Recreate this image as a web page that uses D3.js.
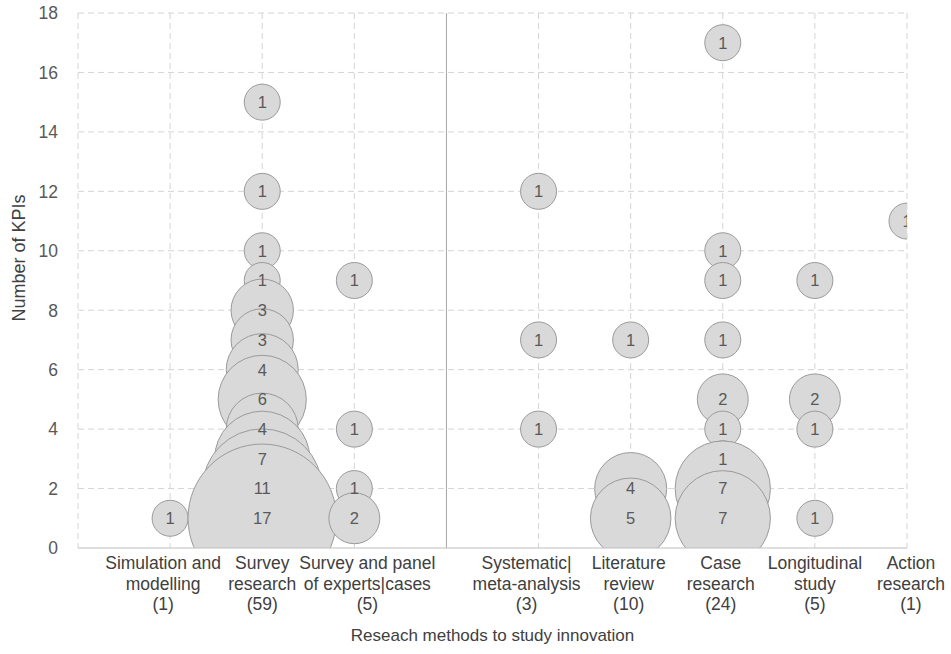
<!DOCTYPE html>
<html><head><meta charset="utf-8">
<script src="https://cdn.jsdelivr.net/npm/d3@7"></script>
<style>html,body{margin:0;padding:0;background:#fff;}svg{display:block;font-family:"Liberation Sans",Arial,sans-serif;}</style>
</head><body>
<svg id="chart" width="951" height="654"></svg>
<script>
const categories = [
  ["Simulation and","modelling","(1)"],
  ["Survey","research","(59)"],
  ["Survey and panel","of experts|cases","(5)"],
  ["Systematic|","meta-analysis","(3)"],
  ["Literature","review","(10)"],
  ["Case","research","(24)"],
  ["Longitudinal","study","(5)"],
  ["Action","research","(1)"]
];
const categorySlots = [1,2,3,5,6,7,8,9];
const kpiValues = [
  [1],
  [15,12,10,9,8,7,6,5,4,3,2,1],
  [9,4,2,1],
  [12,7,4],
  [7,2,1],
  [17,10,9,7,5,4,3,2,1],
  [9,5,4,1],
  [11]
];
const studyCounts = [
  [1],
  [1,1,1,1,3,3,4,6,4,7,11,17],
  [1,1,1,2],
  [1,1,1],
  [1,4,5],
  [1,1,1,1,2,1,1,7,7],
  [1,2,1,1],
  [1]
];
const yTicks = [0,2,4,6,8,10,12,14,16,18];
const xGridSlots = [0,1,2,3,5,6,7,8,9];
const separatorSlot = 4;

(function(){
const svg = d3.select("#chart");
const pLeft = 78, pRight = 907, pTop = 13, pBottom = 548;
const labelNudge = [-7, 0, 13, -12, -2, -2, 0, 4];
const x = d3.scaleLinear().domain([0,9]).range([pLeft,pRight]);
const y = d3.scaleLinear().domain([0,18]).range([pBottom,pTop]);
const r = d3.scaleSqrt().domain([0,1]).range([0,18]);

const grid = "#d4d4d4";
svg.append("g").selectAll("line").data(yTicks.filter(d=>d>0)).join("line")
  .attr("x1",pLeft).attr("x2",pRight).attr("y1",d=>y(d)).attr("y2",d=>y(d))
  .attr("stroke",grid).attr("stroke-width",1).attr("stroke-dasharray","6,4");
svg.append("g").selectAll("line").data(xGridSlots).join("line")
  .attr("x1",d=>x(d)).attr("x2",d=>x(d)).attr("y1",pTop).attr("y2",pBottom)
  .attr("stroke",grid).attr("stroke-width",1).attr("stroke-dasharray","6,4");
svg.append("line").attr("x1",x(separatorSlot)).attr("x2",x(separatorSlot))
  .attr("y1",pTop).attr("y2",pBottom).attr("stroke","#a6a6a6").attr("stroke-width",1);

svg.append("defs").append("clipPath").attr("id","plotclip").append("rect")
  .attr("x",pLeft).attr("y",pTop).attr("width",pRight-pLeft).attr("height",pBottom-pTop);

const bubbles = [];
categories.forEach((c,i)=>{
  kpiValues[i].forEach((v,j)=>{
    bubbles.push({slot:categorySlots[i], kpi:v, count:studyCounts[i][j]});
  });
});

const bg = svg.append("g").attr("clip-path","url(#plotclip)");
bg.selectAll("circle").data(bubbles).join("circle")
  .attr("cx",d=>x(d.slot)).attr("cy",d=>y(d.kpi)).attr("r",d=>r(d.count))
  .attr("fill","#d9d9d9").attr("stroke","#9a9a9a").attr("stroke-width",1);
bg.selectAll("text").data(bubbles).join("text")
  .attr("x",d=>x(d.slot)).attr("y",d=>y(d.kpi)).attr("dy","0.36em")
  .attr("text-anchor","middle").attr("font-size",16.5).attr("fill","#595959")
  .text(d=>d.count);

svg.append("line").attr("x1",pLeft).attr("x2",pRight).attr("y1",pBottom).attr("y2",pBottom)
  .attr("stroke","#bfbfbf").attr("stroke-width",1);

svg.append("g").selectAll("text").data(yTicks).join("text")
  .attr("x",58).attr("y",d=>y(d)).attr("dy","0.36em").attr("text-anchor","end")
  .attr("font-size",17.5).attr("fill","#595959").text(d=>d);

const lab = svg.append("g");
categories.forEach((lines,i)=>{
  const t = lab.append("text").attr("text-anchor","middle").attr("font-size",17.5).attr("fill","#404040");
  lines.forEach((ln,k)=>{
    t.append("tspan").attr("x",x(categorySlots[i]) + labelNudge[i]).attr("y",569+k*20.5).text(ln);
  });
});

svg.append("text").attr("x",(pLeft+pRight)/2).attr("y",641).attr("text-anchor","middle")
  .attr("font-size",17).attr("fill","#404040").text("Reseach methods to study innovation");
svg.append("text").attr("transform","translate(25,258) rotate(-90)").attr("text-anchor","middle")
  .attr("font-size",18).attr("fill","#404040").text("Number of KPIs");
})();
</script>
</body></html>
